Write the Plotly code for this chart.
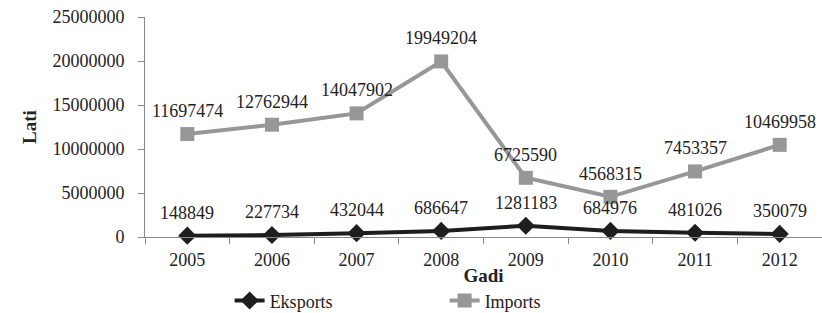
import plotly.graph_objects as go

years = ["2005", "2006", "2007", "2008", "2009", "2010", "2011", "2012"]
eksports = [148849, 227734, 432044, 686647, 1281183, 684976, 481026, 350079]
imports = [11697474, 12762944, 14047902, 19949204, 6725590, 4568315, 7453357, 10469958]
y_ticks = [0, 5000000, 10000000, 15000000, 20000000, 25000000]

FONT = "Liberation Serif"
FS = 18

fig = go.Figure()
fig.add_trace(go.Scatter(
    x=years, y=eksports, name="Eksports", mode="lines+markers",
    line=dict(color="#1e1e1e", width=4),
    marker=dict(symbol="diamond", size=14, color="#1e1e1e"),
    cliponaxis=False,
))
fig.add_trace(go.Scatter(
    x=years, y=imports, name="Imports", mode="lines+markers",
    line=dict(color="#979797", width=4),
    marker=dict(symbol="square", size=14, color="#979797"),
    cliponaxis=False,
))

annotations = []
for series in (eksports, imports):
    for i, v in enumerate(series):
        annotations.append(dict(x=i, y=v, xref="x", yref="y", text=str(v), showarrow=False,
                                yanchor="middle", yshift=23,
                                font=dict(family=FONT, size=FS, color="#222")))

fig.update_layout(
    width=822, height=313,
    margin=dict(l=145, r=0, t=17, b=76, autoexpand=False),
    paper_bgcolor="white", plot_bgcolor="white",
    font=dict(family=FONT, size=FS, color="#222"),
    showlegend=True,
    annotations=annotations,
    legend=dict(orientation="h", x=0.125, y=-0.29, xanchor="left", yanchor="middle",
                entrywidth=170, font=dict(family=FONT, size=FS, color="#222"),
                itemwidth=30, tracegroupgap=0),
)
fig.update_xaxes(
    type="category", showgrid=False, showline=True, linecolor="#888", linewidth=1,
    ticks="outside", tickson="boundaries", ticklen=6, tickcolor="#888",
    ticklabelstandoff=6,
    tickfont=dict(family=FONT, size=FS, color="#222"),
    title=dict(text="<b>Gadi</b>", font=dict(family=FONT, size=19, color="#222"), standoff=0),
    range=[-0.5, 7.5], automargin=False,
)
fig.update_yaxes(
    range=[0, 25000000], tickvals=y_ticks, ticktext=[str(v) for v in y_ticks],
    showgrid=False, showline=True, linecolor="#888", linewidth=1,
    ticks="outside", ticklen=6, tickcolor="#888", zeroline=False,
    ticklabelstandoff=10,
    tickfont=dict(family=FONT, size=FS, color="#222"),
    title=dict(text="<b>Lati</b>", font=dict(family=FONT, size=19, color="#222"), standoff=10),
    automargin=False,
)
fig.write_html("out.html", config={"displayModeBar": False},
               post_script="document.body.style.margin='0';")
